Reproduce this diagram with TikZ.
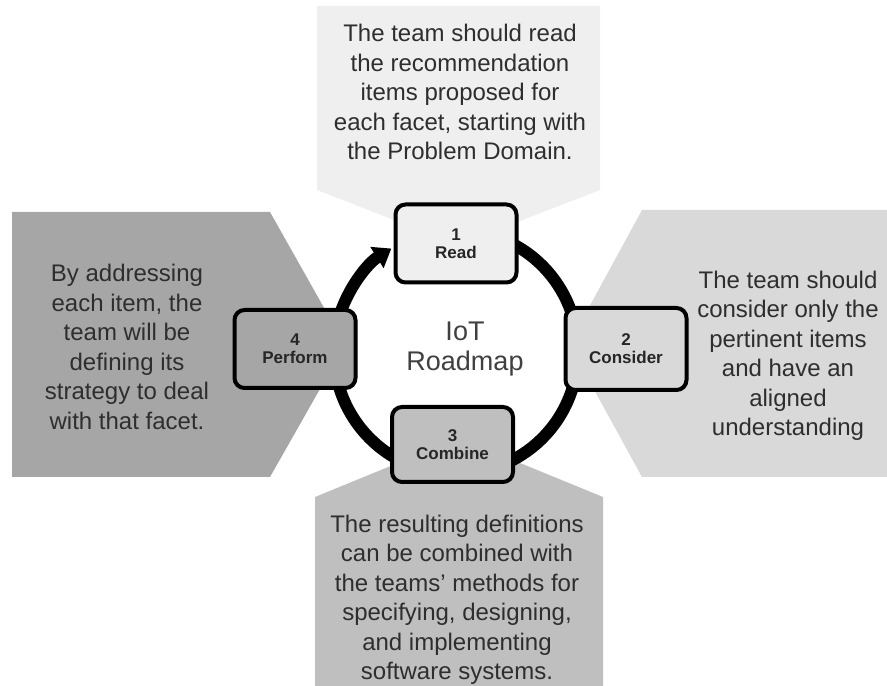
\documentclass[tikz,border=0pt]{standalone}
\usepackage{fontspec}
\setmainfont{Liberation Sans}
\usetikzlibrary{arrows.meta}
\definecolor{greyA}{HTML}{EFEFEF}
\definecolor{greyB}{HTML}{D9D9D9}
\definecolor{greyC}{HTML}{BFBFBF}
\definecolor{greyD}{HTML}{A6A6A6}
\definecolor{txt}{HTML}{2E2E2E}

\begin{document}
\begin{tikzpicture} [x=1pt,y=1pt]
\tikzstyle{stage}=[draw=black, line width=4pt, rounded corners=10pt, minimum width=121pt, minimum height=78pt, align=center, text=black!85, font=\fontsize{17}{18}\selectfont\bfseries]
\tikzstyle{note}=[align=center, text=txt, font=\fontsize{24}{29.5}\selectfont]
\useasboundingbox (0,0) rectangle (887,686);
% callout shapes
\fill[greyA] (317,680) -- (600,680) -- (600,496) -- (458,441) -- (317,496) -- cycle;
\fill[greyB] (887,476) -- (642,476) -- (569,342) -- (642,209) -- (887,209) -- cycle;
\fill[greyC] (315,0) -- (315,189) -- (459,248) -- (603,189) -- (603,0) -- cycle;
\fill[greyD] (12,474) -- (270,474) -- (345,341) -- (270,209) -- (12,209) -- cycle;
\node at(460,594) (T1) [note]{The team should read\\the recommendation\\items proposed for\\each facet, starting with\\the Problem Domain.};
\node at(788,330) (T2) [note]{The team should\\consider only the\\pertinent items\\and have an\\aligned\\understanding};
\node at(457,86) (T3) [note]{The resulting definitions\\can be combined with\\the teams' methods for\\specifying, designing,\\and implementing\\software systems.};
\node at(127,339) (T4) [note]{By addressing\\each item, the\\team will be\\defining its\\strategy to deal\\with that facet.};
% cycle
\coordinate (ctr) at (456,334);
\draw [line width=12pt, -{Triangle[length=17pt,width=24pt]}] (ctr) ++(70:122) arc [start angle=70, end angle=-238, radius=122];
\node at(465,337) (hub) [align=center, text=black!75, font=\fontsize{27}{30}\selectfont]{IoT\\Roadmap};
\node at(456,442.5) (S1) [stage, fill=greyA]{1\\Read};
\node at(626,337) (S2) [stage, fill=greyB, minimum height=82pt]{2\\Consider};
\node at(452.5,241.5) (S3) [stage, fill=greyC, minimum height=75pt]{3\\Combine};
\node at(295,337) (S4) [stage, fill=greyD]{4\\Perform};
\end{tikzpicture}
\end{document}
